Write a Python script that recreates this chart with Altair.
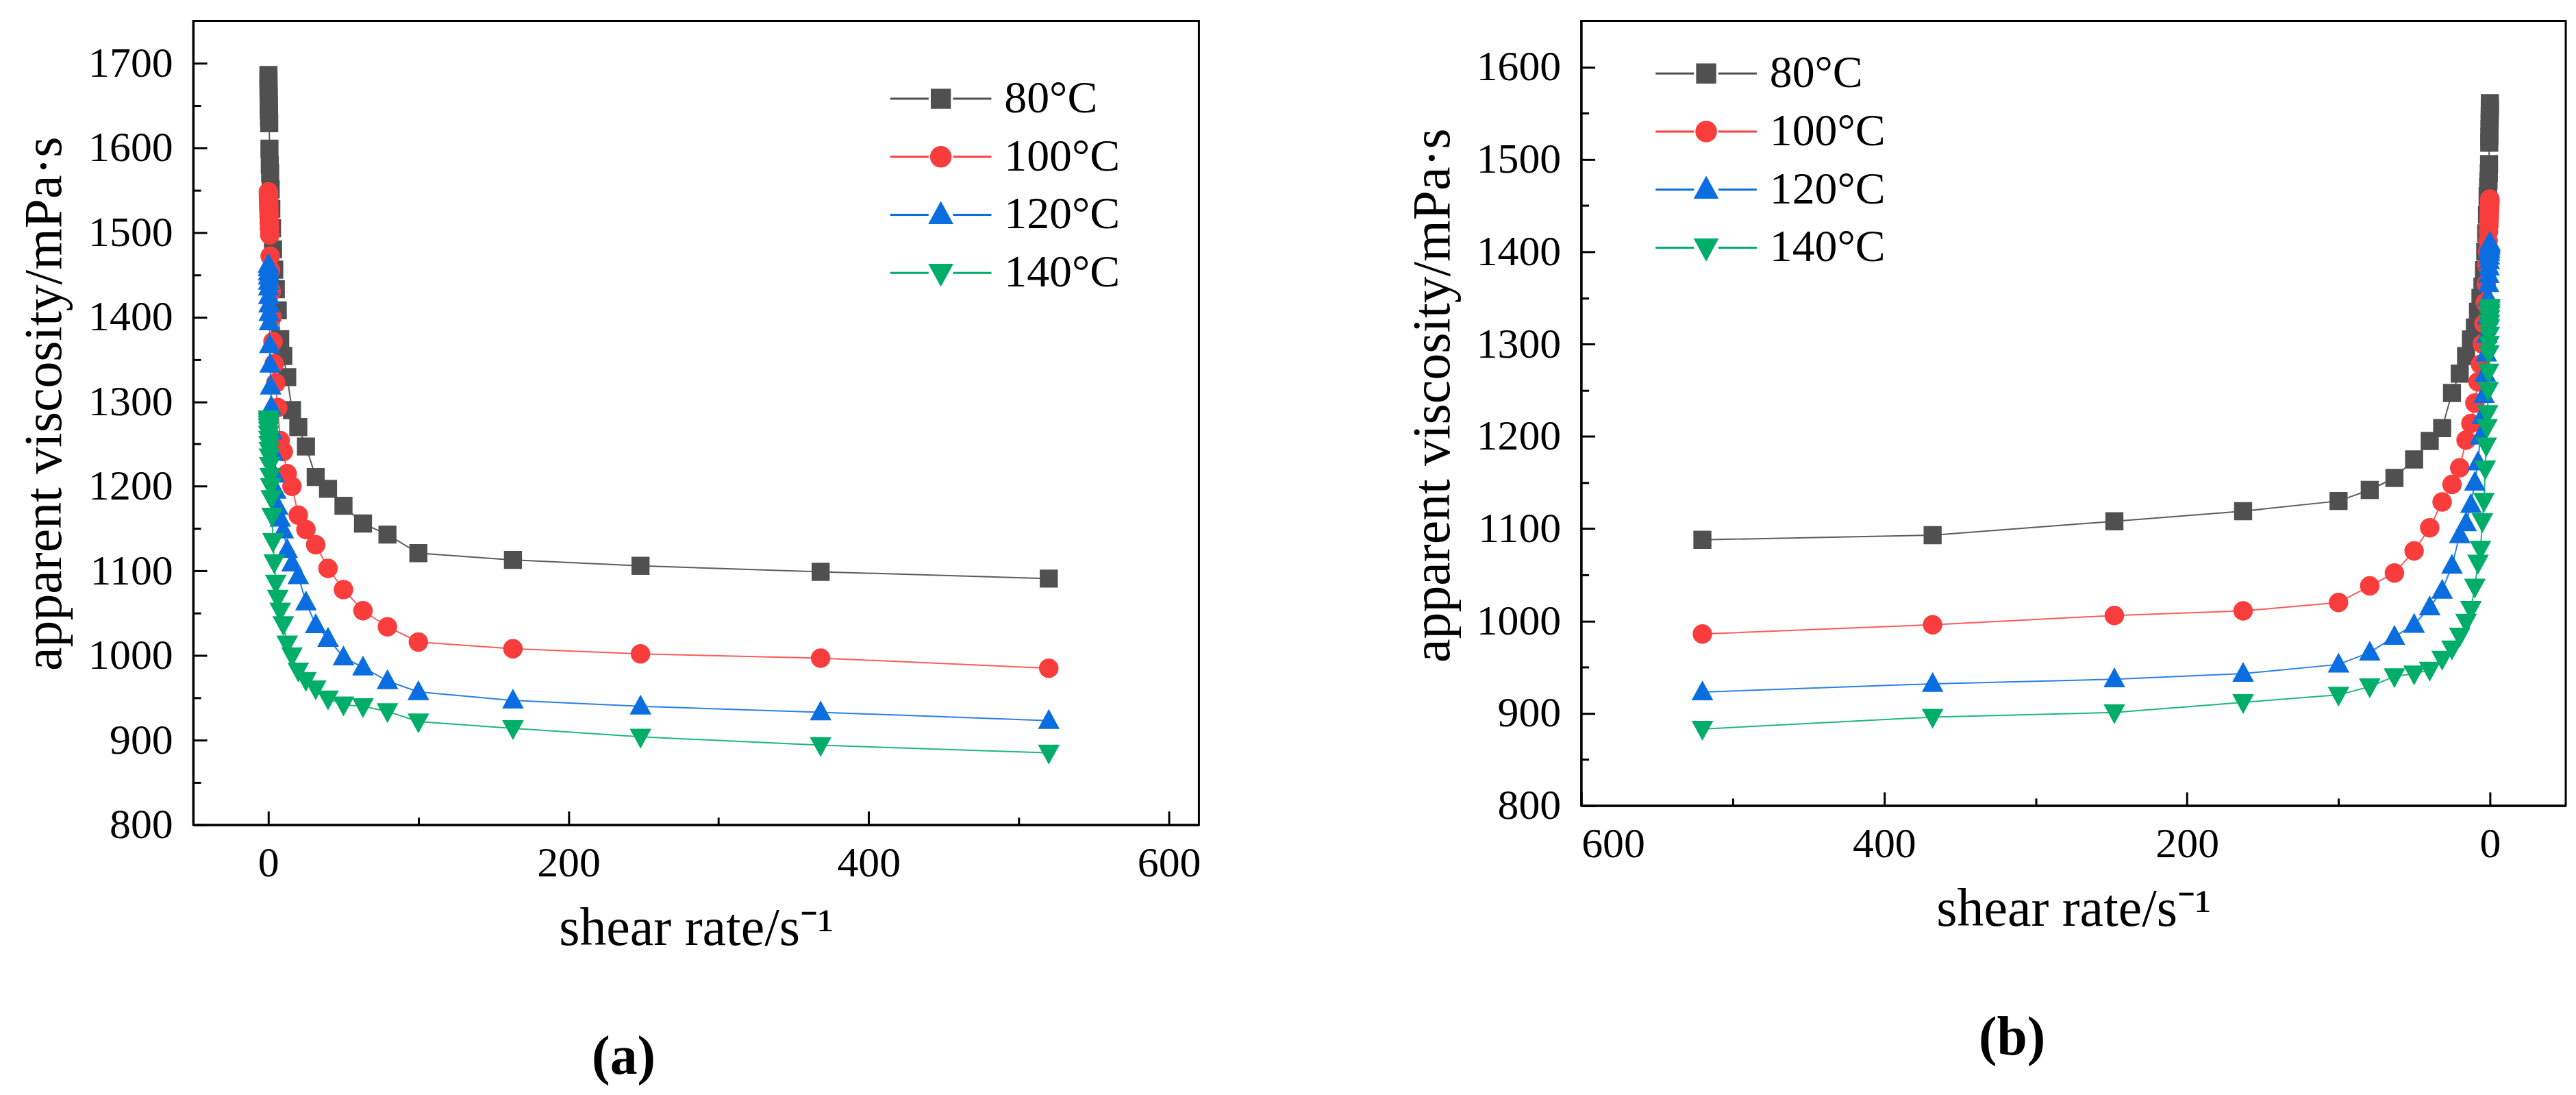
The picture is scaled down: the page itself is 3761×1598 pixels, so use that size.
import altair as alt
import pandas as pd

# ---------------- data ----------------
shear_rate = [0.1, 0.126, 0.158, 0.2, 0.251, 0.316, 0.398, 0.501, 0.631, 0.794,
              1.0, 1.26, 1.58, 2.0, 2.51, 3.16, 3.98, 5.01, 6.31, 7.94,
              10.0, 12.6, 15.8, 20.0, 25.1, 31.6, 39.8, 50.1, 63.1, 79.4,
              100.0, 163.0, 248.0, 368.0, 520.0]

series = ["80°C", "100°C", "120°C", "140°C"]

a_80 = [1686, 1680, 1671, 1666, 1660, 1651, 1645, 1636, 1629, 1599,
        1580, 1570, 1551, 1528, 1505, 1480, 1456, 1433, 1408, 1374,
        1354, 1329, 1290, 1270, 1247, 1211, 1197, 1177, 1156, 1143,
        1121, 1113, 1106, 1099, 1091]
a_100 = [1548, 1545, 1542, 1539, 1535, 1530, 1525, 1519, 1512, 1505,
         1497, 1472, 1455, 1430, 1400, 1371, 1345, 1322, 1293, 1254,
         1241, 1215, 1200, 1166, 1149, 1131, 1103, 1078, 1053, 1034,
         1016, 1008, 1002, 997, 985]
a_120 = [1462, 1458, 1453, 1448, 1442, 1435, 1425, 1415, 1405, 1394,
         1367, 1344, 1318, 1294, 1265, 1240, 1214, 1195, 1176, 1162,
         1148, 1125, 1109, 1094, 1063, 1036, 1020, 998, 986, 970,
         957, 947, 940, 933, 923]
a_140 = [1280, 1277, 1274, 1271, 1267, 1262, 1256, 1250, 1243, 1235,
         1225, 1212, 1200, 1186, 1165, 1135, 1110, 1086, 1068, 1053,
         1037, 1014, 1000, 982, 971, 961, 949, 942, 940, 934,
         922, 914, 904, 894, 885]

b_80 = [1561, 1557, 1553, 1547, 1540, 1533, 1525, 1518, 1495, 1485,
        1477, 1470, 1460, 1440, 1420, 1400, 1380, 1362, 1350, 1335,
        1318, 1305, 1287, 1268, 1247, 1209, 1195, 1175, 1155, 1142,
        1130, 1119, 1108, 1093, 1088]
b_100 = [1457, 1455, 1453, 1451, 1448, 1445, 1441, 1437, 1433, 1428,
         1422, 1412, 1400, 1385, 1365, 1345, 1322, 1300, 1278, 1259,
         1236, 1214, 1196, 1166, 1148, 1129, 1101, 1076, 1052, 1038,
         1020, 1011, 1006, 996, 986]
b_120 = [1410, 1409, 1407, 1405, 1402, 1399, 1395, 1390, 1383, 1375,
         1365, 1350, 1330, 1310, 1290, 1268, 1245, 1222, 1200, 1172,
         1150, 1126, 1106, 1093, 1060, 1033, 1015, 996, 983, 966,
         953, 943, 937, 932, 923]
b_140 = [1340, 1338, 1335, 1332, 1328, 1323, 1318, 1310, 1300, 1290,
         1270, 1250, 1225, 1210, 1190, 1165, 1130, 1108, 1078, 1063,
         1037, 1013, 999, 984, 970, 959, 947, 943, 940, 929,
         920, 912, 901, 896, 883]

a_x_major = [0, 200, 400, 600]
a_x_minor = [100, 300, 500]
a_y_major = [800, 900, 1000, 1100, 1200, 1300, 1400, 1500, 1600, 1700]
a_y_minor = [850, 950, 1050, 1150, 1250, 1350, 1450, 1550, 1650]

b_x_major = [0, 200, 400, 600]
b_x_minor = [100, 300, 500]
b_y_major = [800, 900, 1000, 1100, 1200, 1300, 1400, 1500, 1600]
b_y_minor = [850, 950, 1050, 1150, 1250, 1350, 1450, 1550]

# ---------------- styles ----------------
marker_colors = ["#505050", "#f93d3d", "#0a6ee0", "#00ad69"]
line_colors = ["#5c5c5c", "#ff5a5a", "#2a7fe6", "#1db877"]
leg_line = "M-5.6,0H-1.35M1.35,0H5.6"
shape_paths = [
    leg_line + "M-1,-1H1V1H-1Z",
    leg_line + "M-1.08,0C-1.08,-0.596,-0.596,-1.08,0,-1.08C0.596,-1.08,1.08,-0.596,1.08,0"
               "C1.08,0.596,0.596,1.08,0,1.08C-0.596,1.08,-1.08,0.596,-1.08,0Z",
    leg_line + "M0,-1.3L1.2,0.9H-1.2Z",
    leg_line + "M0,1.3L1.2,-0.9H-1.2Z",
]
line_keys = ["line " + s for s in series]
FONT = "Liberation Serif"


def make_df(value_lists):
    rows = []
    for name, key, vals in zip(series, line_keys, value_lists):
        for r, v in zip(shear_rate, vals):
            rows.append({"rate": r, "visc": v, "series": name, "line_key": key})
    return pd.DataFrame(rows)


def panel(df, W, H, xdom, xrev, ydom, xmaj, xmin, ymaj, ymin, lx, ly, label, tdx, ty):
    xs = alt.Scale(domain=xdom, reverse=xrev, nice=False, zero=False)
    ys = alt.Scale(domain=ydom, nice=False, zero=False)
    base = alt.Chart(df)

    lines = base.mark_line(strokeWidth=2).encode(
        x=alt.X("rate:Q", scale=xs,
                axis=alt.Axis(values=xmaj, title="shear rate/s⁻¹", ticks=False, tickSize=0,
                              labelPadding=26, titlePadding=26, format="d", grid=False)),
        y=alt.Y("visc:Q", scale=ys,
                axis=alt.Axis(values=ymaj, title="apparent viscosity/mPa·s", ticks=False,
                              tickSize=0, labelPadding=30, titlePadding=24, format="d",
                              titleY=ty, grid=False)),
        color=alt.Color("line_key:N", scale=alt.Scale(domain=line_keys, range=line_colors),
                        legend=None),
    )

    leg = alt.Legend(orient="none", legendX=lx, legendY=ly, title=None,
                     labelFont=FONT, labelFontSize=66, labelColor="black", labelLimit=500,
                     symbolSize=700, symbolStrokeWidth=3, labelOffset=60,
                     rowPadding=19, padding=0, symbolOpacity=1)

    points = base.mark_point(filled=True, size=700, opacity=1).encode(
        x=alt.X("rate:Q", scale=xs,
                axis=alt.Axis(orient="top", offset=-H, values=xmaj, labels=False,
                              domain=False, tickSize=20, tickWidth=3, tickColor="black",
                              title=None, grid=False)),
        y=alt.Y("visc:Q", scale=ys,
                axis=alt.Axis(orient="right", offset=-W, values=ymaj, labels=False,
                              domain=False, tickSize=20, tickWidth=3, tickColor="black",
                              title=None, grid=False)),
        shape=alt.Shape("series:N", scale=alt.Scale(domain=series, range=shape_paths),
                        legend=leg),
        fill=alt.Fill("series:N", scale=alt.Scale(domain=series, range=marker_colors),
                      legend=leg),
        stroke=alt.Stroke("series:N", scale=alt.Scale(domain=series, range=marker_colors),
                          legend=leg),
        strokeWidth=alt.value(0),
    )

    minor = base.mark_point(opacity=0).encode(
        x=alt.X("rate:Q", scale=xs,
                axis=alt.Axis(orient="top", offset=-H, values=xmin, labels=False,
                              domain=False, tickSize=11, tickWidth=3, tickColor="black",
                              title=None, grid=False)),
        y=alt.Y("visc:Q", scale=ys,
                axis=alt.Axis(orient="right", offset=-W, values=ymin, labels=False,
                              domain=False, tickSize=11, tickWidth=3, tickColor="black",
                              title=None, grid=False)),
    )

    return alt.layer(lines, points, minor).resolve_axis(
        x="independent", y="independent"
    ).properties(
        width=W, height=H,
        title=alt.TitleParams(text=label, orient="bottom", anchor="middle", offset=110,
                              dx=tdx, font=FONT, fontSize=80, fontWeight="bold",
                              color="black"),
    )


df_a = make_df([a_80, a_100, a_120, a_140])
df_b = make_df([b_80, b_100, b_120, b_140])

pa = panel(df_a, 1473, 1177, [-50, 620], False, [800, 1750],
           a_x_major, a_x_minor, a_y_major, a_y_minor, 1062, 81, "(a)", -106, 560)
pb = panel(df_b, 1442, 1149, [-50, 600], True, [800, 1650],
           b_x_major, b_x_minor, b_y_major, b_y_minor, 150, 44, "(b)", -90, 548)

chart = alt.hconcat(pa, pb, spacing=297).resolve_scale(
    x="independent", y="independent", color="independent",
    fill="independent", stroke="independent", shape="independent"
).resolve_legend(
    fill="independent", stroke="independent", shape="independent"
).configure_view(
    stroke="black", strokeWidth=3
).configure_axis(
    domainColor="black", domainWidth=3, labelFont=FONT, labelFontSize=62,
    labelColor="black", titleFont=FONT, titleFontSize=78, titleFontWeight="normal",
    titleColor="black", grid=False
).properties(
    padding={"left": 17, "top": 18, "right": 5, "bottom": 5},
    background="white"
)

chart.save("out.html", embed_options={"renderer": "svg", "actions": False})
